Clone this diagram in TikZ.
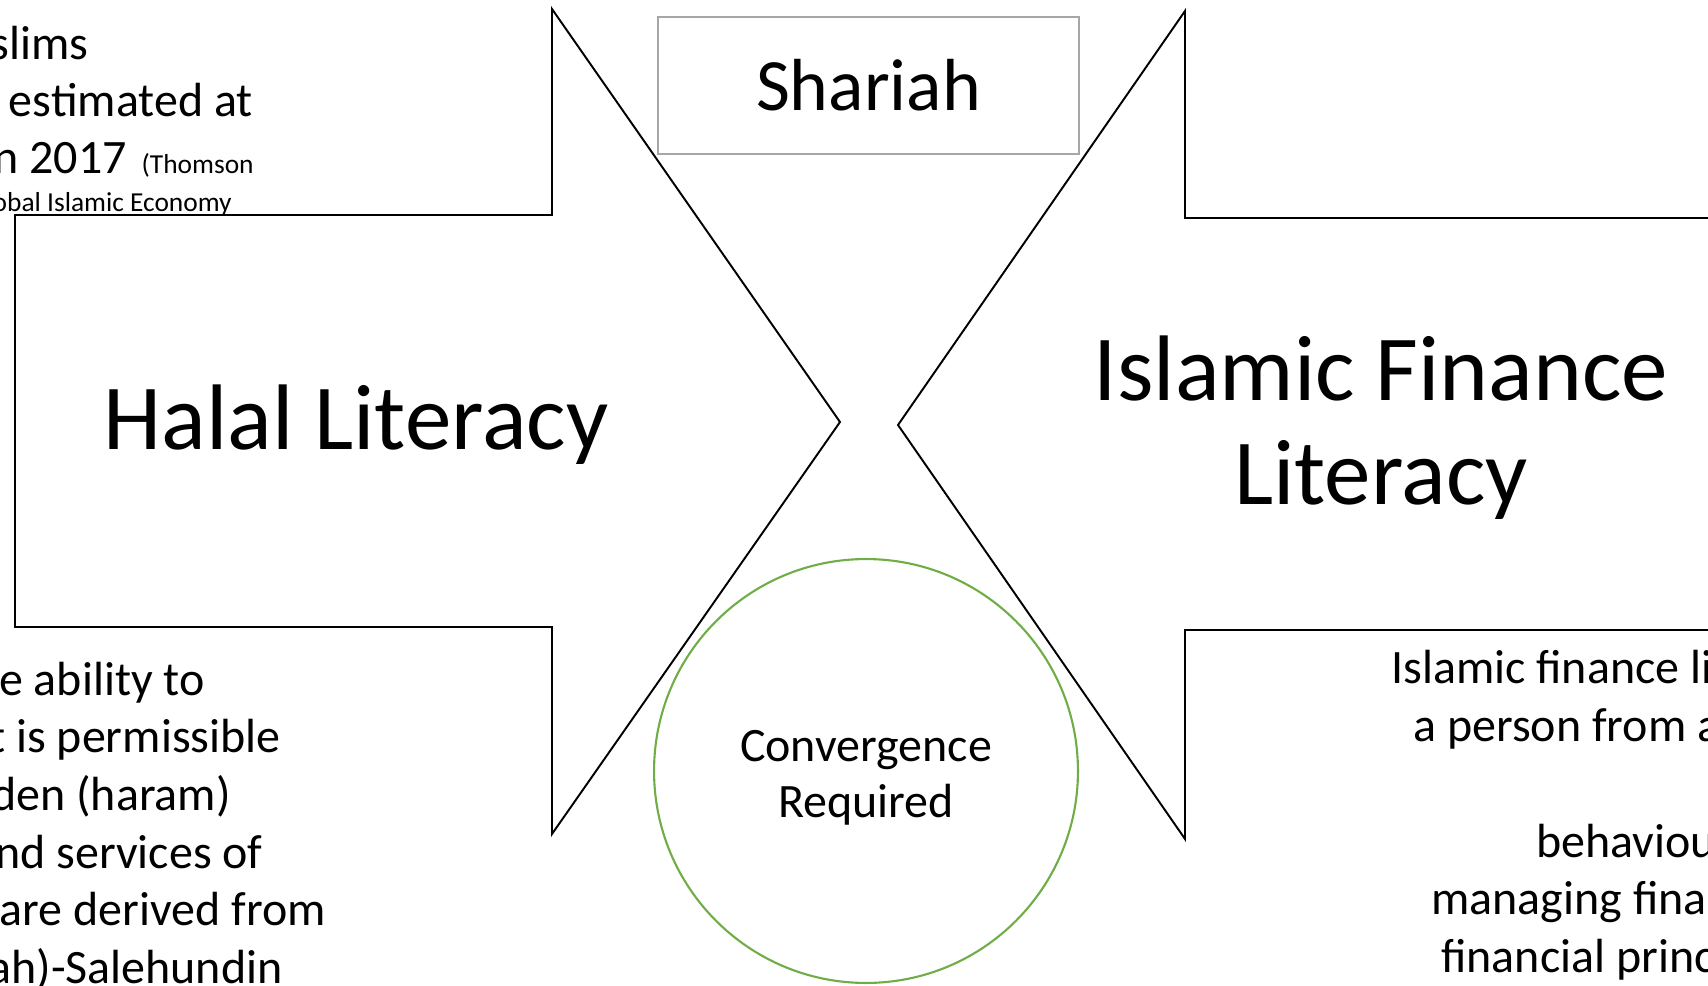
\documentclass[tikz,border=0pt]{standalone}
\usepackage{fontspec}
\setmainfont{Carlito}
\usetikzlibrary{positioning}
\definecolor{convgreen}{HTML}{70AD47}
\definecolor{boxgray}{HTML}{A6A6A6}

\begin{document}
\begin{tikzpicture}[x=0.02cm, y=-0.02cm,
    body/.style = {font=\fontsize{27.3}{32}\selectfont, inner sep=0pt},
    title/.style = {font=\fontsize{53}{58}\selectfont, inner sep=0pt, anchor=base},
    bigarrow/.style = {draw=black, fill=white, line width=1.1pt, line join=miter}]
  \useasboundingbox (0,0) rectangle (1708,986);
  \clip (0,0) rectangle (1708,986);
  \begin{scope}[every node/.style = {body, anchor=base east}]
    \foreach \x/\y/\t [count=\i] in {89/60/slims, 253/117/estimated at, 127/174/n 2017}{
      \node (T\i) at (\x,\y) {\t};
    }
    \node[font=\fontsize{15.6}{18}\selectfont] (T4) at (254,174) {(Thomson};
    \node[font=\fontsize{15.6}{18}\selectfont] (T5) at (232,212) {obal Islamic Economy};
    \foreach \x/\y/\t [count=\i] in {205/695/e ability to, 281/752/t is permissible,
        231/810/den (haram), 263/868/nd services of, 326/925/are derived from,
        283/983/ah)-Salehundin}{
      \node (L\i) at (\x,\y) {\t};
    }
  \end{scope}
  \begin{scope}[every node/.style = {body, anchor=base west}]
    \foreach \x/\y/\t [count=\i] in {1391/683/Islamic finance li, 1413/741/a person from a,
        1536/857/behaviou, 1431/914/managing fina, 1441/972/financial princ}{
      \node (R\i) at (\x,\y) {\t};
    }
  \end{scope}
  \draw[bigarrow] (15,215) -- (552,215) -- (552,9) -- (840,422) -- (552,834)
    -- (552,627) -- (15,627) -- cycle;
  \draw[bigarrow] (1760,218) -- (1185,218) -- (1185,11) -- (898,425) -- (1185,839)
    -- (1185,630) -- (1760,630) -- cycle;
  \node[title] (halal) at (356,450) {Halal Literacy};
  \node[title] (ifl1) at (1381,401) {Islamic Finance};
  \node[title] (ifl2) at (1381,504) {Literacy};
  \node[draw=boxgray, line width=1.2pt, fill=white, inner sep=0pt,
    minimum width=8.42cm, minimum height=2.74cm,
    font=\fontsize{42}{48}\selectfont] (shariah) at (868.5,85.5) {Shariah};
  \node[circle, draw=convgreen, line width=1.2pt, minimum size=8.48cm] (conv) at (866,771) {};
  \node[body, anchor=base] (conv1) at (866,761) {Convergence};
  \node[body, anchor=base] (conv2) at (866,817) {Required};
\end{tikzpicture}
\end{document}
